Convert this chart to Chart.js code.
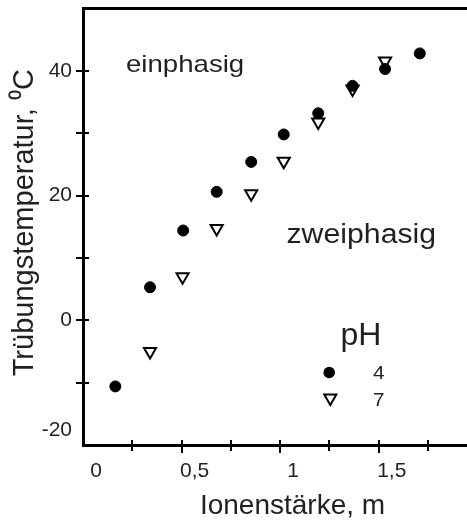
<!DOCTYPE html>
<html>
<head>
<meta charset="utf-8">
<script src="https://cdn.jsdelivr.net/npm/chart.js"></script>
<style>
  html, body { margin: 0; padding: 0; background: #fff; overflow: hidden; }
  #wrap { width: 467px; height: 522px; overflow: hidden; }
</style>
</head>
<body>
<div id="wrap"><canvas id="chart" width="502" height="522"></canvas></div>
<script>
const FONT = '"Liberation Sans", Arial, Helvetica, sans-serif';
const INK = "#231f20";

// pH 4 - filled circles
const ph4Ionic = [0.164, 0.340, 0.508, 0.678, 0.853, 1.018, 1.193, 1.367, 1.532, 1.708];
const ph4Temp  = [-10.6, 5.3, 14.4, 20.6, 25.4, 29.8, 33.2, 37.6, 40.3, 42.8];

// pH 7 - open triangles
const ph7Ionic = [0.340, 0.505, 0.678, 0.853, 1.018, 1.193, 1.367, 1.532];
const ph7Temp  = [-5.0, 7.0, 14.7, 20.3, 25.5, 31.8, 37.1, 41.6];

const xTickLabels = [0, 0.5, 1, 1.5];
const yTickLabels = [-20, 0, 20, 40];
const yMin = -20, yMax = 50;
const xMin = 0, xMax = 2.125;

function toPoints(xs, ys) {
    return xs.map((x, i) => ({ x: x, y: ys[i] }));
}

// tick marks that cross the axis lines
const crossTicks = {
    id: "crossTicks",
    afterDraw(chart) {
        const ctx = chart.ctx;
        const x = chart.scales.x;
        const y = chart.scales.y;
        ctx.save();
        ctx.strokeStyle = "#000";
        ctx.lineWidth = 2;
        ctx.beginPath();
        y.ticks.forEach(t => {
            if (t.value <= y.min || t.value >= y.max) return;
            const py = Math.round(y.getPixelForValue(t.value));
            ctx.moveTo(x.left - 7, py);
            ctx.lineTo(x.left + 6, py);
        });
        x.ticks.forEach(t => {
            if (t.value <= x.min || t.value >= x.max) return;
            const px = Math.round(x.getPixelForValue(t.value));
            const major = Math.abs(t.value * 2 - Math.round(t.value * 2)) < 1e-6;
            ctx.moveTo(px, y.bottom - 5);
            ctx.lineTo(px, y.bottom + (major ? 8 : 6));
        });
        ctx.stroke();
        ctx.restore();
    }
};

// region labels and the pH key
const notes = {
    id: "notes",
    afterDraw(chart) {
        const ctx = chart.ctx;
        function text(str, x, y, size, sx, align) {
            ctx.save();
            ctx.translate(x, y);
            ctx.scale(sx, 1);
            ctx.font = size + "px " + FONT;
            ctx.fillStyle = INK;
            ctx.textAlign = align || "left";
            ctx.textBaseline = "alphabetic";
            ctx.fillText(str, 0, 0);
            ctx.restore();
        }
        text("einphasig", 126, 71.5, 24, 1.15);
        text("zweiphasig", 286.5, 243, 27, 1.12);
        text("pH", 340.5, 345, 32, 1);
        text("4", 378.7, 378.5, 18, 1.15, "center");
        text("7", 378.7, 406, 18, 1.15, "center");

        ctx.save();
        ctx.fillStyle = "#000";
        ctx.beginPath();
        ctx.arc(329.2, 372.5, 5.8, 0, Math.PI * 2);
        ctx.fill();
        ctx.strokeStyle = "#000";
        ctx.lineWidth = 2;
        const cx = 330.3, cy = 398, r = 7;
        ctx.beginPath();
        for (let k = 0; k < 3; k++) {
            const a = Math.PI + k * 2 * Math.PI / 3;
            const px = cx + Math.sin(a) * r;
            const py = cy - Math.cos(a) * r;
            if (k === 0) ctx.moveTo(px, py); else ctx.lineTo(px, py);
        }
        ctx.closePath();
        ctx.stroke();
        ctx.restore();
    }
};

const chart = new Chart(document.getElementById("chart"), {
    type: "scatter",
    data: {
        datasets: [{
            label: "pH 4",
            data: toPoints(ph4Ionic, ph4Temp),
            pointStyle: "circle",
            pointRadius: 5.5,
            pointBackgroundColor: "#000",
            pointBorderColor: "#000",
            pointBorderWidth: 1
        }, {
            label: "pH 7",
            data: toPoints(ph7Ionic, ph7Temp),
            pointStyle: "triangle",
            pointRotation: 180,
            pointRadius: 7,
            pointBackgroundColor: "rgba(0,0,0,0)",
            pointBorderColor: "#000",
            pointBorderWidth: 2
        }]
    },
    options: {
        responsive: false,
        animation: false,
        devicePixelRatio: 1,
        layout: { padding: 0, autoPadding: false },
        plugins: { legend: { display: false }, tooltip: { enabled: false } },
        scales: {
            x: {
                type: "linear",
                position: "bottom",
                min: xMin,
                max: xMax,
                afterFit: s => { s.height = 77; s.paddingLeft = 0; s.paddingRight = 0; },
                grid: { display: false, drawTicks: false },
                border: { display: true, color: "#000", width: 3 },
                ticks: {
                    stepSize: 0.25,
                    autoSkip: false,
                    maxRotation: 0,
                    padding: 14,
                    labelOffset: 13,
                    color: INK,
                    font: { family: FONT, size: 21 },
                    callback: v => xTickLabels.includes(v) ? String(v).replace(".", ",") : ""
                },
                title: {
                    display: true,
                    text: "Ionenstärke, m",
                    color: INK,
                    font: { family: FONT, size: 28, lineHeight: 1.1 },
                    padding: { top: 0, bottom: 0 }
                }
            },
            xTop: {
                type: "linear",
                position: "top",
                min: xMin,
                max: xMax,
                afterFit: s => { s.height = 8.5; s.paddingLeft = 0; s.paddingRight = 0; },
                grid: { display: false, drawTicks: false },
                border: { display: true, color: "#000", width: 3 },
                ticks: { display: false }
            },
            y: {
                type: "linear",
                position: "left",
                min: yMin,
                max: yMax,
                afterFit: s => { s.width = 83; s.paddingTop = 0; s.paddingBottom = 0; },
                grid: { display: false, drawTicks: false },
                border: { display: true, color: "#000", width: 3 },
                ticks: {
                    stepSize: 10,
                    autoSkip: false,
                    padding: 11,
                    color: INK,
                    font: { family: FONT, size: 21, lineHeight: 1.45 },
                    callback: v => !yTickLabels.includes(v) ? "" : (v === yMin ? [String(v), ""] : String(v))
                },
                title: {
                    display: true,
                    text: " Trübungstemperatur, ⁰C",
                    color: INK,
                    font: { family: FONT, size: 29, lineHeight: 1.2 },
                    padding: { top: 8, bottom: 0 }
                }
            }
        }
    },
    plugins: [crossTicks, notes]
});
</script>
</body>
</html>
